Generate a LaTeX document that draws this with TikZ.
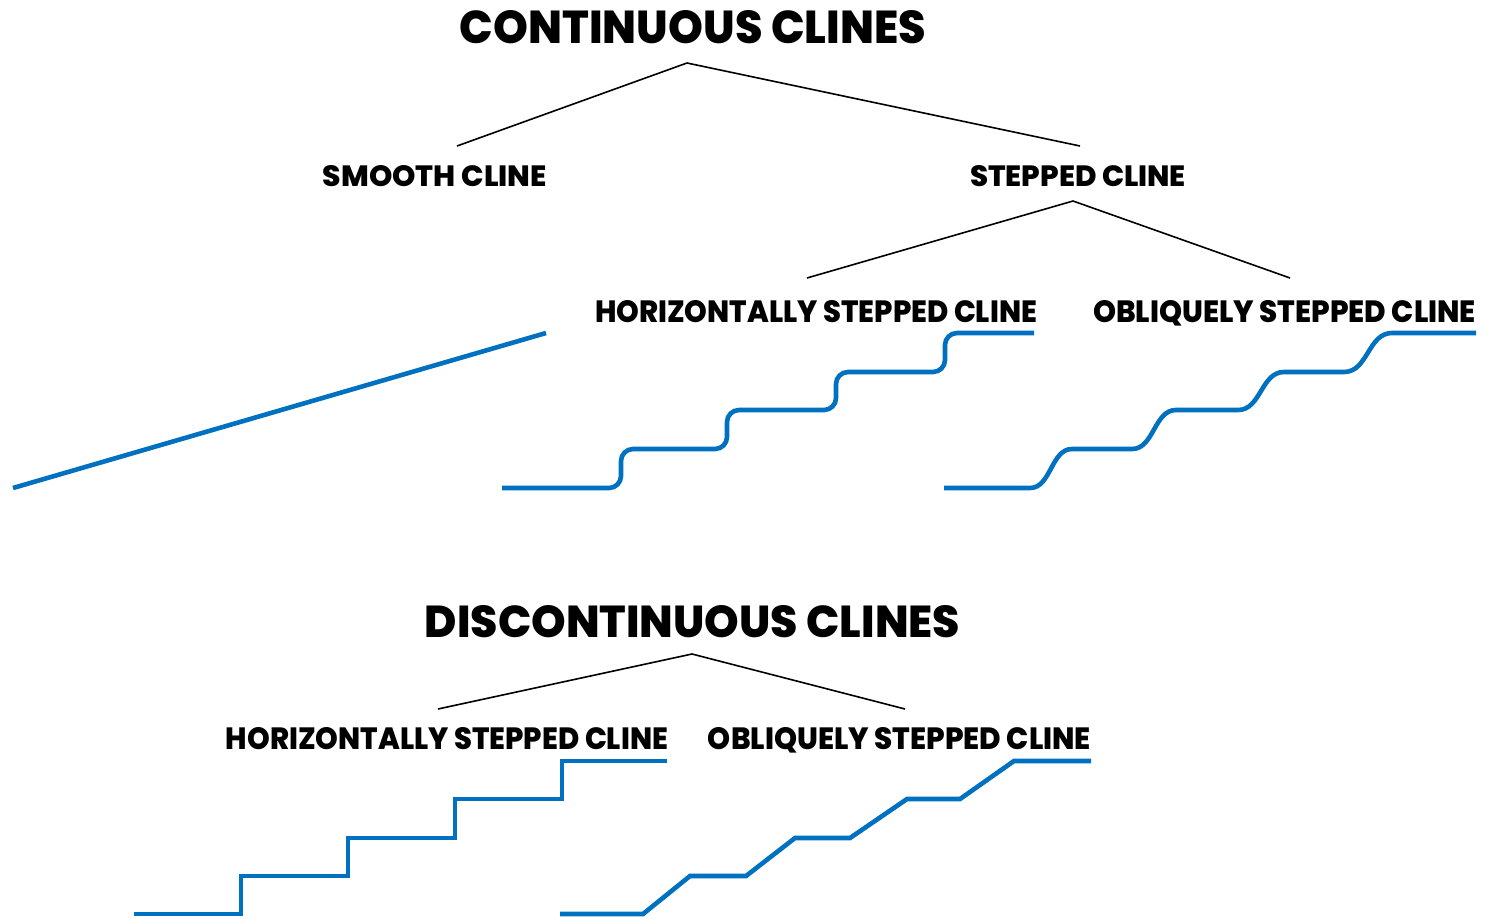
\documentclass[tikz,border=0pt]{standalone}
\usepackage{fontspec}
\setmainfont{Poppins}[BoldFont={Poppins ExtraBold}]
\usepackage{graphicx}
\usepackage{tikz}
\usetikzlibrary{calc,positioning}
\definecolor{clineblue}{RGB}{0,112,192}
\newcommand{\fitlabel}[3]{\resizebox{#1}{#2}{\raisebox{0pt}[\height][0pt]{\bfseries #3}}}
\tikzset{
  lbl/.style={inner sep=0pt,outer sep=0pt,anchor=center},
  tree/.style={draw=black,line width=1.6pt},
  cline/.style={draw=clineblue,line width=4.6pt}
}

\begin{document}
\begin{tikzpicture}[x=1pt,y=-1pt]
\useasboundingbox (0,0) rectangle (1488,918);
% continuous clines
\node[lbl] (CC) at (693,26.5) {\fitlabel{466pt}{33pt}{CONTINUOUS CLINES}};
\node[lbl] (SM) at (435,175.5) {\fitlabel{224pt}{21pt}{SMOOTH CLINE}};
\node[lbl] (ST) at (1078,175.5) {\fitlabel{216pt}{21pt}{STEPPED CLINE}};
\node[lbl] (HS) at (816,311) {\fitlabel{442pt}{22pt}{HORIZONTALLY STEPPED CLINE}};
\node[lbl] (OS) at (1284.5,311) {\fitlabel{383pt}{22pt}{OBLIQUELY STEPPED CLINE}};
\coordinate (cc-apex) at (687,63);
\coordinate (sm-top) at (457,146);
\coordinate (st-top) at (1080,146);
\coordinate (st-apex) at (1073,201);
\coordinate (hs-top) at (807,278);
\coordinate (os-top) at (1290,278);
\path[tree]
(cc-apex) edge (sm-top)
(cc-apex) edge (st-top)
(st-apex) edge (hs-top)
(st-apex) edge (os-top);
% discontinuous clines
\node[lbl] (DC) at (692.5,621) {\fitlabel{535pt}{32pt}{DISCONTINUOUS CLINES}};
\node[lbl] (DH) at (447,738) {\fitlabel{442pt}{22pt}{HORIZONTALLY STEPPED CLINE}};
\node[lbl] (DO) at (899.5,738) {\fitlabel{383pt}{22pt}{OBLIQUELY STEPPED CLINE}};
\coordinate (dc-apex) at (692,654);
\coordinate (dh-top) at (438,709);
\coordinate (do-top) at (905,709);
\path[tree]
(dc-apex) edge (dh-top)
(dc-apex) edge (do-top);
% blue clines
\coordinate (sm0) at (13,488);
\coordinate (sm1) at (546,333);
\draw[cline] (sm0) -- (sm1);
\draw[cline,rounded corners=12pt] (502,488) -- (621,488) -- (621,449) -- (727,449) -- (727,410)
  -- (836,410) -- (836,372) -- (945,372) -- (945,333) -- (1034,333);
\draw[cline] (944,488) -- (1030,488) .. controls (1051,488) and (1051,449) .. (1072,449)
  -- (1132,449) .. controls (1154,449) and (1154,410) .. (1176,410)
  -- (1238,410) .. controls (1261,410) and (1261,372) .. (1284,372)
  -- (1344,372) .. controls (1368,372) and (1368,333) .. (1392,333) -- (1476,333);
\draw[cline,miter limit=10] (134,914) -- (241,914) -- (241,876) -- (348,876) -- (348,838)
  -- (455,838) -- (455,799) -- (562,799) -- (562,761) -- (667,761);
\draw[cline] (560,914) -- (643,914) -- (690,876) -- (746,876) -- (795,838) -- (850,838)
  -- (907,799) -- (960,799) -- (1014,761) -- (1091,761);
\end{tikzpicture}
\end{document}
